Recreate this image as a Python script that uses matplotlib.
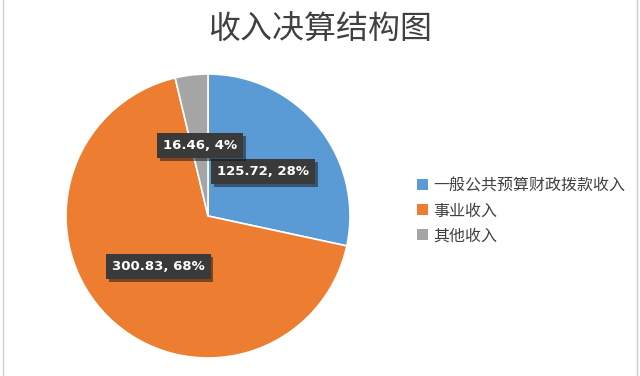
import numpy as np
import matplotlib
matplotlib.use("Agg")
import matplotlib.pyplot as plt
from matplotlib.patches import Patch
import matplotlib.patheffects as pe

plt.rcParams['font.family'] = ['Noto Sans CJK SC', 'DejaVu Sans']

categories = ['一般公共预算财政拨款收入', '事业收入', '其他收入']
values = [125.72, 300.83, 16.46]
colors = ['#5B9BD5', '#ED7D31', '#A5A5A5']
title = '收入决算结构图'

fig = plt.figure(figsize=(6.4, 3.76), dpi=100)
fig.patch.set_facecolor('white')

# pie axes, placed in pixels of the reference
ax = fig.add_axes([66 / 640, 18 / 376, 284 / 640, 284 / 376])
wedges, _ = ax.pie(values, colors=colors, startangle=90, counterclock=False,
                   radius=1, wedgeprops=dict(edgecolor='white', linewidth=1.2))
ax.set_xlim(-1, 1)
ax.set_ylim(-1, 1)
ax.set_aspect('equal')
ax.axis('off')

total = sum(values)
for w, v in zip(wedges, values):
    mid = np.deg2rad((w.theta1 + w.theta2) / 2)
    r = 0.5
    t = ax.text(r * np.cos(mid), r * np.sin(mid), '%.2f, %d%%' % (v, round(v / total * 100)),
                ha='center', va='center', color='white', fontsize=9.5, fontweight='bold',
                family=['DejaVu Sans'],
                bbox=dict(boxstyle='square,pad=0.45', facecolor='#3a3a3a', edgecolor='none'))
    t.get_bbox_patch().set_path_effects([pe.SimplePatchShadow(offset=(2, -2), alpha=0.5), pe.Normal()])

fig.text(0.5, 1 - 30 / 376, title, ha='center', va='center', fontsize=23,
         fontweight='medium', color='#404040')

handles = [Patch(facecolor=c, edgecolor='none') for c in colors]
fig.legend(handles, categories, loc='upper left', bbox_to_anchor=(411 / 640, 1 - 171 / 376),
           frameon=False, fontsize=11.5, labelcolor='#404040', handlelength=0.65, handleheight=0.65,
           handletextpad=0.35, labelspacing=0.5, borderaxespad=0)

# spreadsheet edges
fig.add_artist(plt.Line2D([3 / 640, 3 / 640], [0, 1], color='#d0d0d0', lw=1))
fig.add_artist(plt.Line2D([637 / 640, 637 / 640], [0, 1], color='#d0d0d0', lw=1))

plt.savefig('out.png', dpi=100)
